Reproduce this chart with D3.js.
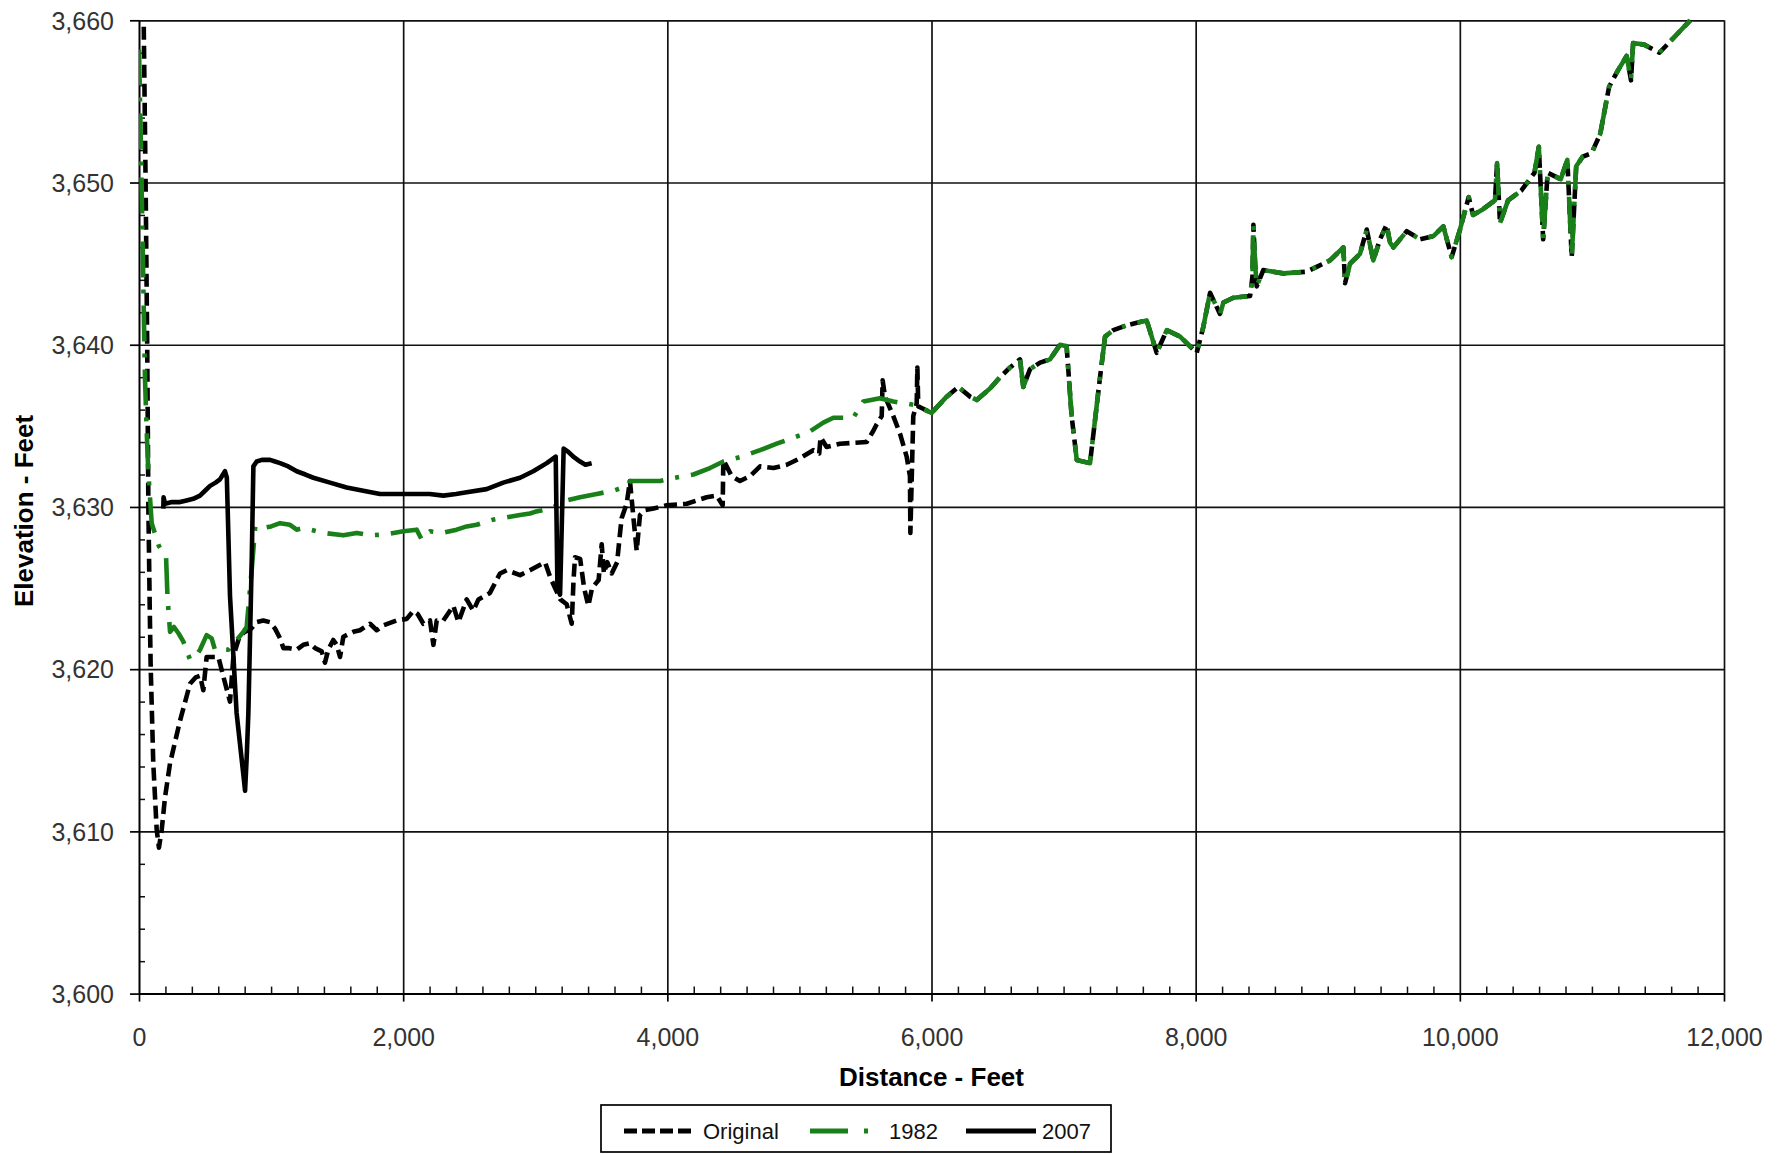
<!DOCTYPE html>
<html>
<head>
<meta charset="utf-8">
<script src="https://cdn.jsdelivr.net/npm/d3@7"></script>
<style>
  html, body { margin: 0; padding: 0; background: #fff; }
  svg { display: block; }
  text { font-family: "Liberation Sans", Arial, sans-serif; }
</style>
</head>
<body>
<svg id="chart" width="1788" height="1154"></svg>
<script>
// Thalweg profile: distance along channel (ft) vs. bed elevation (ft)

// Original survey, upstream reach (below ~6,000 ft it differs from 1982)
const originalUpper = [
  [36, 3659.6], [50, 3650], [62, 3640], [71, 3630], [80, 3624.5], [88, 3620.3], [108, 3614.2],
  [134, 3610.1], [151, 3609.0], [172, 3610.1], [197, 3612.1], [235, 3614.2], [310, 3616.8],
  [386, 3619.1], [430, 3619.5], [462, 3619.6], [487, 3618.7], [512, 3620.75], [601, 3620.75],
  [640, 3619.5], [689, 3618.0], [715, 3620.8], [760, 3622.0], [800, 3622.3], [850, 3622.5],
  [891, 3622.9], [941, 3623.0], [990, 3622.9], [1030, 3622.5], [1068, 3621.9], [1093, 3621.3],
  [1131, 3621.3], [1194, 3621.2], [1244, 3621.5], [1295, 3621.6], [1333, 3621.3], [1383, 3621.1],
  [1408, 3620.4], [1433, 3621.2], [1471, 3621.8], [1497, 3621.5], [1522, 3620.75], [1547, 3622.0],
  [1623, 3622.3], [1673, 3622.4], [1749, 3622.8], [1800, 3622.4], [1850, 3622.7], [1951, 3623.0],
  [2027, 3623.1], [2077, 3623.6], [2110, 3623.4], [2153, 3622.8], [2203, 3623.0], [2229, 3621.5],
  [2254, 3623.0], [2304, 3623.0], [2380, 3623.9], [2418, 3622.9], [2481, 3624.3], [2531, 3623.6],
  [2570, 3624.3], [2657, 3624.7], [2733, 3625.9], [2784, 3626.1], [2885, 3625.8], [2960, 3626.1],
  [3074, 3626.6], [3112, 3625.7], [3150, 3625.0], [3190, 3624.3], [3238, 3624.0], [3276, 3622.8],
  [3290, 3625.5], [3301, 3626.9], [3340, 3626.8], [3370, 3625.0], [3402, 3623.9], [3430, 3625.0],
  [3480, 3625.5], [3503, 3627.7], [3520, 3625.9], [3545, 3626.6], [3579, 3625.9], [3620, 3626.6],
  [3642, 3628.4], [3654, 3629.3], [3692, 3630.2], [3717, 3631.6], [3745, 3629.2], [3768, 3627.3],
  [3793, 3629.5], [3830, 3629.8], [3895, 3629.9], [3995, 3630.1], [4147, 3630.2], [4298, 3630.6],
  [4374, 3630.7], [4419, 3630.1], [4424, 3632.9], [4487, 3631.9], [4550, 3631.6], [4626, 3631.9],
  [4702, 3632.5], [4803, 3632.4], [4904, 3632.6], [5004, 3633.0], [5105, 3633.5], [5150, 3633.3],
  [5160, 3634.3], [5206, 3633.7], [5307, 3633.9], [5509, 3634.0], [5560, 3634.7], [5585, 3635.1],
  [5623, 3635.6], [5630, 3637.8], [5648, 3636.8], [5711, 3635.6], [5762, 3634.5], [5812, 3633.1],
  [5837, 3631.9], [5840, 3628.4], [5862, 3635.6], [5888, 3636.4], [5893, 3638.6], [5900, 3636.2],
  [5925, 3636.1]
];

// 1982 survey, upstream reach
const survey1982Upper = [
  [0, 3658.2], [15, 3652], [30, 3645], [45, 3638], [58, 3634.7], [71, 3632.1], [96, 3629.0],
  [150, 3627.6], [205, 3626.9], [215, 3624.6], [225, 3623.4], [235, 3622.3], [265, 3622.6],
  [300, 3622.2], [336, 3621.7], [386, 3620.6], [430, 3620.8], [462, 3621.2], [512, 3622.1],
  [550, 3621.9], [575, 3621.2], [676, 3621.2], [740, 3621.8], [790, 3622.3], [815, 3622.6],
  [853, 3626.1], [880, 3628.8], [941, 3628.7], [1000, 3628.8], [1068, 3629.0], [1143, 3628.9],
  [1194, 3628.6], [1244, 3628.7], [1396, 3628.4], [1547, 3628.25], [1648, 3628.4], [1749, 3628.25],
  [1863, 3628.3], [2001, 3628.5], [2102, 3628.6], [2140, 3628.0], [2203, 3628.5], [2300, 3628.4],
  [2405, 3628.6], [2481, 3628.8], [2556, 3628.9], [2670, 3629.2], [2809, 3629.4], [2885, 3629.5],
  [2960, 3629.6], [2998, 3629.7], [3112, 3629.9], [3238, 3630.4], [3339, 3630.6], [3465, 3630.8],
  [3591, 3631.0], [3700, 3631.3], [3717, 3631.6], [3793, 3631.6], [3945, 3631.6], [4058, 3631.8],
  [4197, 3632.0], [4323, 3632.4], [4424, 3632.8], [4563, 3633.1], [4702, 3633.5], [4828, 3633.9],
  [4929, 3634.2], [5068, 3634.6], [5181, 3635.2], [5257, 3635.5], [5408, 3635.5], [5484, 3636.5],
  [5610, 3636.7], [5711, 3636.5], [5863, 3636.3]
];

// Downstream reach where the original and 1982 profiles coincide
const sharedReach = [
  [6001, 3635.8], [6115, 3636.8], [6203, 3637.4], [6292, 3636.8], [6342, 3636.6], [6443, 3637.3],
  [6519, 3638.0], [6595, 3638.6], [6670, 3639.1], [6695, 3637.4], [6746, 3638.5], [6822, 3638.9],
  [6897, 3639.1], [6973, 3640.0], [7023, 3639.9], [7061, 3635.6], [7100, 3632.9], [7200, 3632.7],
  [7276, 3638.0], [7314, 3640.5], [7377, 3640.9], [7478, 3641.2], [7629, 3641.5], [7705, 3639.5],
  [7781, 3640.9], [7882, 3640.5], [8008, 3639.5], [8058, 3641.1], [8109, 3643.2], [8184, 3641.9],
  [8210, 3642.6], [8285, 3642.9], [8412, 3643.0], [8430, 3644.2], [8437, 3647.4], [8450, 3645.0],
  [8462, 3643.6], [8512, 3644.6], [8663, 3644.4], [8841, 3644.5], [8916, 3644.8], [9017, 3645.2],
  [9118, 3646.0], [9131, 3643.8], [9169, 3645.0], [9244, 3645.6], [9295, 3647.1], [9345, 3645.2],
  [9396, 3646.5], [9446, 3647.4], [9471, 3646.3], [9497, 3646.0], [9598, 3647.0], [9699, 3646.5],
  [9800, 3646.7], [9875, 3647.3], [9938, 3645.4], [10001, 3647.1], [10067, 3649.1], [10100, 3648.0],
  [10166, 3648.3], [10266, 3648.9], [10282, 3651.2], [10304, 3647.5], [10365, 3648.9], [10465, 3649.5],
  [10565, 3650.6], [10598, 3652.2], [10631, 3646.5], [10665, 3650.6], [10764, 3650.2], [10814, 3651.4],
  [10847, 3645.4], [10881, 3651.0], [10931, 3651.6], [10997, 3651.8], [11063, 3653.0], [11130, 3655.9],
  [11196, 3656.9], [11263, 3657.8], [11296, 3656.3], [11312, 3658.6], [11395, 3658.5], [11511, 3658.0],
  [11628, 3659.0], [11744, 3660.0]
];

// 2007 survey (upstream reach only)
const survey2007 = [
  [184, 3629.9], [186, 3630.6], [197, 3630.2], [250, 3630.3], [310, 3630.3], [360, 3630.4],
  [411, 3630.5], [462, 3630.7], [500, 3631.0], [538, 3631.3], [580, 3631.5], [613, 3631.7],
  [651, 3632.2], [665, 3631.8], [689, 3624.5], [739, 3617.3], [790, 3613.5], [803, 3612.5],
  [815, 3614.5], [828, 3617.3], [853, 3626.5], [866, 3632.5], [891, 3632.8], [930, 3632.9],
  [992, 3632.9], [1030, 3632.8], [1068, 3632.7], [1130, 3632.5], [1194, 3632.2], [1260, 3632.0],
  [1320, 3631.8], [1446, 3631.5], [1572, 3631.2], [1698, 3631.0], [1825, 3630.8], [1951, 3630.8],
  [2077, 3630.8], [2200, 3630.8], [2304, 3630.7], [2400, 3630.8], [2481, 3630.9], [2632, 3631.1],
  [2758, 3631.5], [2885, 3631.8], [2985, 3632.2], [3087, 3632.7], [3155, 3633.1], [3168, 3625.0],
  [3188, 3624.6], [3215, 3633.6], [3250, 3633.4], [3288, 3633.1], [3339, 3632.8], [3380, 3632.6],
  [3427, 3632.7]
];

const xTicks = [0, 2000, 4000, 6000, 8000, 10000, 12000];
const yTicks = [3600, 3610, 3620, 3630, 3640, 3650, 3660];
const seriesNames = ["Original", "1982", "2007"];

const original = originalUpper.concat(sharedReach);
const survey1982 = survey1982Upper.concat(sharedReach);

const W = 1788, H = 1154;
const plot = { left: 139, right: 1724, top: 20.3, bottom: 993.6 };
const green = "#198019";

const svg = d3.select("#chart");
svg.append("rect").attr("width", W).attr("height", H).attr("fill", "#fff");

const x = d3.scaleLinear().domain([0, 12000]).range([plot.left, plot.right]);
const y = d3.scaleLinear().domain([3600, 3660]).range([plot.bottom, plot.top]);

const fmt = d3.format(",");

// grid
const grid = svg.append("g");
grid.append("g")
  .attr("transform", `translate(${plot.left},0)`)
  .call(d3.axisLeft(y).tickValues(yTicks.slice(1)).tickSize(-(plot.right - plot.left)).tickFormat(""))
  .call(g => g.select(".domain").remove())
  .call(g => g.selectAll("line").attr("stroke", "#111").attr("stroke-width", 1.7));
grid.append("g")
  .attr("transform", `translate(0,${plot.bottom})`)
  .call(d3.axisBottom(x).tickValues(xTicks.slice(1)).tickSize(-(plot.bottom - plot.top)).tickFormat(""))
  .call(g => g.select(".domain").remove())
  .call(g => g.selectAll("line").attr("stroke", "#111").attr("stroke-width", 1.7));

// minor ticks (inside)
const yMinor = d3.range(3602, 3660, 2).filter(v => v % 10 !== 0);
const xMinor = d3.range(200, 12000, 200).filter(v => v % 2000 !== 0);
svg.append("g")
  .attr("transform", `translate(${plot.left},0)`)
  .call(d3.axisRight(y).tickValues(yMinor).tickSize(6).tickFormat(""))
  .call(g => g.select(".domain").remove())
  .call(g => g.selectAll("line").attr("stroke", "#111").attr("stroke-width", 1.5));
svg.append("g")
  .attr("transform", `translate(0,${plot.bottom})`)
  .call(d3.axisTop(x).tickValues(xMinor).tickSize(7).tickFormat(""))
  .call(g => g.select(".domain").remove())
  .call(g => g.selectAll("line").attr("stroke", "#111").attr("stroke-width", 1.5));

// main axes
const yAxis = svg.append("g")
  .attr("transform", `translate(${plot.left},0)`)
  .call(d3.axisLeft(y).tickValues(yTicks).tickSize(9).tickSizeOuter(0).tickPadding(16).tickFormat(fmt));
const xAxis = svg.append("g")
  .attr("transform", `translate(0,${plot.bottom})`)
  .call(d3.axisBottom(x).tickValues(xTicks).tickSize(8).tickSizeOuter(0).tickFormat(fmt));

[yAxis, xAxis].forEach(a => {
  a.select(".domain").attr("stroke", "#000").attr("stroke-width", 2);
  a.selectAll(".tick line").attr("stroke", "#000").attr("stroke-width", 1.7);
  a.selectAll(".tick text")
    .attr("font-family", "'Liberation Sans', Arial, sans-serif")
    .attr("font-size", 25).attr("fill", "#333");
});
yAxis.selectAll(".tick text").attr("dy", "0.35em");
xAxis.selectAll(".tick text").attr("y", 52).attr("dy", 0);

// axis titles
svg.append("text")
  .attr("x", (plot.left + plot.right) / 2).attr("y", 1086)
  .attr("text-anchor", "middle")
  .attr("font-size", 26).attr("font-weight", "bold").attr("fill", "#000")
  .text("Distance - Feet");
svg.append("text")
  .attr("transform", `translate(33,${(plot.top + plot.bottom) / 2 + 4}) rotate(-90)`)
  .attr("text-anchor", "middle")
  .attr("font-size", 26).attr("font-weight", "bold").attr("fill", "#000")
  .text("Elevation - Feet");

// series
svg.append("clipPath").attr("id", "plotClip")
  .append("rect")
  .attr("x", plot.left).attr("y", plot.top - 2)
  .attr("width", plot.right - plot.left).attr("height", plot.bottom - plot.top + 2);

const line = d3.line().x(d => x(d[0])).y(d => y(d[1]));
const lines = svg.append("g").attr("clip-path", "url(#plotClip)");

const styles = [
  { data: original, stroke: "#000", width: 4.6, dash: "13,6" },
  { data: survey1982, stroke: green, width: 4.6, dash: "36,12,4,12" },
  { data: survey2007, stroke: "#000", width: 4.6, dash: null }
];
styles.forEach(s => {
  lines.append("path")
    .datum(s.data)
    .attr("fill", "none")
    .attr("stroke", s.stroke)
    .attr("stroke-width", s.width)
    .attr("stroke-linejoin", "round")
    .attr("stroke-dasharray", s.dash)
    .attr("d", line);
});

// legend
const legend = svg.append("g");
legend.append("rect")
  .attr("x", 601).attr("y", 1105).attr("width", 510).attr("height", 47)
  .attr("fill", "#fff").attr("stroke", "#000").attr("stroke-width", 1.7);
const legendItems = [
  { name: seriesNames[0], x0: 624, x1: 696, tx: 703, stroke: "#000", dash: "13,5" },
  { name: seriesNames[1], x0: 810, x1: 880, tx: 889, stroke: green, dash: "38,16,4,16" },
  { name: seriesNames[2], x0: 966, x1: 1036, tx: 1042, stroke: "#000", dash: null }
];
legendItems.forEach(it => {
  legend.append("line")
    .attr("x1", it.x0).attr("x2", it.x1).attr("y1", 1131).attr("y2", 1131)
    .attr("stroke", it.stroke).attr("stroke-width", 5)
    .attr("stroke-dasharray", it.dash);
  legend.append("text")
    .attr("x", it.tx).attr("y", 1139)
    .attr("font-size", 22).attr("fill", "#111")
    .text(it.name);
});
</script>
</body>
</html>
